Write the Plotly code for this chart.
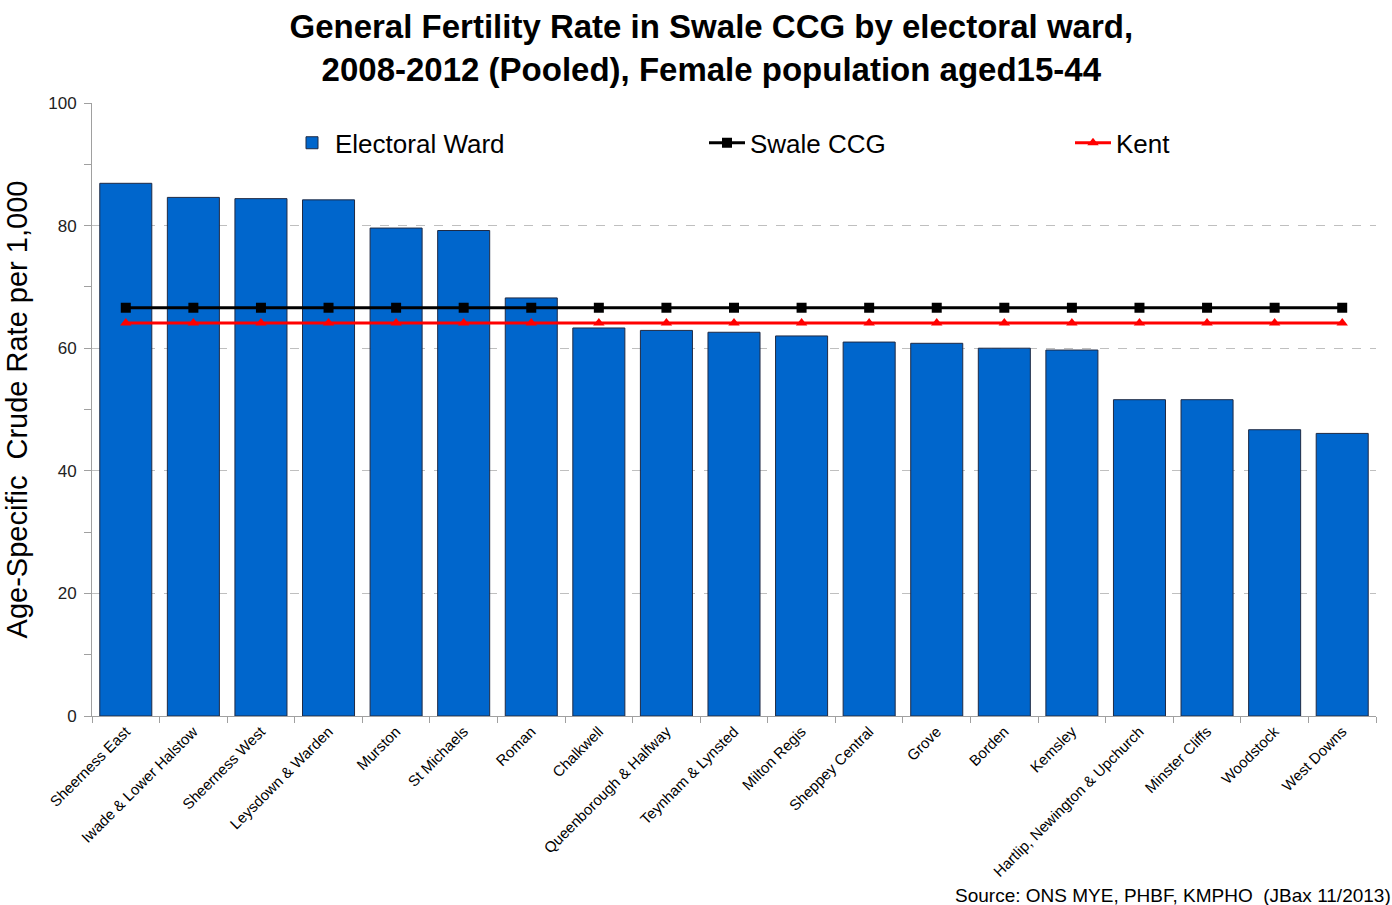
import plotly.graph_objects as go

wards = ["Sheerness East", "Iwade & Lower Halstow", "Sheerness West", "Leysdown & Warden",
         "Murston", "St Michaels", "Roman", "Chalkwell", "Queenborough & Halfway",
         "Teynham & Lynsted", "Milton Regis", "Sheppey Central", "Grove", "Borden",
         "Kemsley", "Hartlip, Newington & Upchurch", "Minster Cliffs", "Woodstock", "West Downs"]
ward_rates = [86.9, 84.6, 84.4, 84.2, 79.6, 79.2, 68.2, 63.3, 62.9, 62.6, 62.0, 61.0,
              60.8, 60.0, 59.7, 51.6, 51.6, 46.7, 46.1]
swale_rate = 66.6
kent_rate = 64.1

swale_vals = [swale_rate] * len(wards)
kent_vals = [kent_rate] * len(wards)

FONT = "Liberation Sans, Arial"

fig = go.Figure()
fig.add_trace(go.Bar(
    x=wards, y=ward_rates, name="Electoral Ward",
    marker=dict(color="#0066CC", line=dict(color="#1F2A44", width=1)),
    width=0.77, legend="legend",
))
fig.add_trace(go.Scatter(
    x=wards, y=swale_vals, name="Swale CCG", mode="lines+markers",
    line=dict(color="black", width=3),
    marker=dict(symbol="square", size=10, color="black"),
    legend="legend2",
))
fig.add_trace(go.Scatter(
    x=wards, y=kent_vals, name="Kent", mode="lines+markers",
    line=dict(color="#FF0000", width=3),
    marker=dict(symbol="triangle-up", size=10, color="#FF0000"),
    legend="legend3",
))

leg_common = dict(orientation="h", yanchor="middle", y=0.935, xanchor="left",
                  font=dict(family=FONT, size=26, color="black"),
                  bgcolor="rgba(0,0,0,0)", itemwidth=36)

fig.update_layout(
    width=1392, height=905,
    margin=dict(l=92, r=16, t=103, b=189),
    paper_bgcolor="white", plot_bgcolor="white",
    title=dict(
        text="<b>General Fertility Rate in Swale CCG by electoral ward,<br>2008-2012 (Pooled), Female population aged15-44</b>",
        x=0.511, xanchor="center", y=0.958, yanchor="middle",
        font=dict(family=FONT, size=33, color="black"),
    ),
    showlegend=True,
    legend=dict(**leg_common, x=(289 - 92) / 1284),
    legend2=dict(**leg_common, x=(704 - 92) / 1284),
    legend3=dict(**leg_common, x=(1070 - 92) / 1284),
    bargap=0.23,
)

fig.update_xaxes(
    type="category", range=[-0.5, len(wards) - 0.5],
    showline=True, linecolor="#A0A0A0", linewidth=1,
    ticks="outside", tickson="boundaries", tickcolor="#A0A0A0", ticklen=6,
    tickangle=-45,
    tickfont=dict(family=FONT, size=15, color="black"),
    showgrid=False,
)
fig.update_yaxes(
    range=[0, 100], dtick=20, tick0=0,
    showline=True, linecolor="#A0A0A0", linewidth=1,
    ticks="outside", tickcolor="#A0A0A0", ticklen=7,
    ticklabelstandoff=4,
    tickfont=dict(family=FONT, size=17, color="#222222"),
    showgrid=True, gridcolor="#BFBFBF", griddash="dash", gridwidth=1,
    minor=dict(dtick=10, ticks="outside", ticklen=7, tickcolor="#A0A0A0", showgrid=False),
    title=dict(text="Age-Specific  Crude Rate per 1,000",
               font=dict(family=FONT, size=29, color="black"),
               standoff=12),
    zeroline=False,
)

fig.add_annotation(
    text="Source: ONS MYE, PHBF, KMPHO  (JBax 11/2013)",
    xref="paper", yref="paper", x=1.013, y=-0.293, xanchor="right", yanchor="middle",
    showarrow=False,
    font=dict(family=FONT, size=19, color="black"),
)

fig.write_html("out.html")
